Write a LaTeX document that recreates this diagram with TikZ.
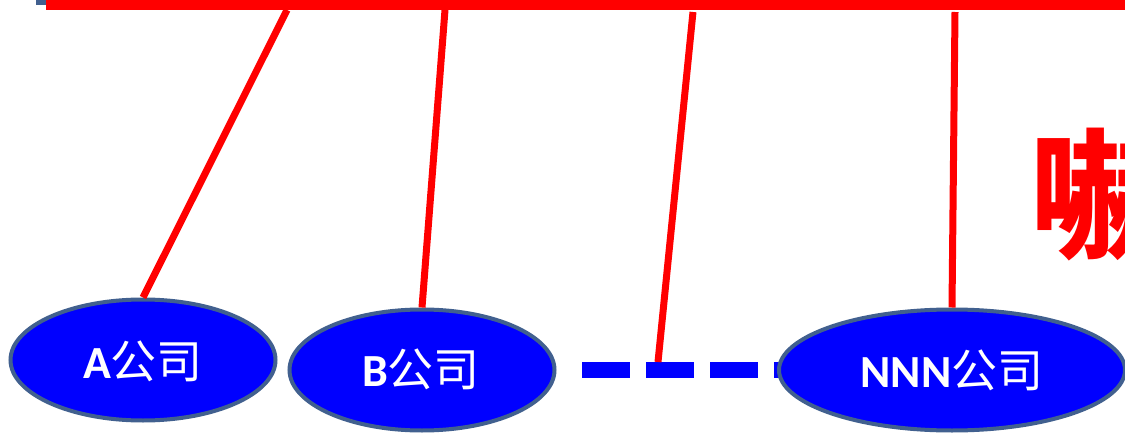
\documentclass[tikz,border=0pt]{standalone}
\usepackage{fontspec}
\newfontfamily\cjk{Noto Sans CJK SC}
\newfontfamily\latin{Carlito}
\usetikzlibrary{shapes.geometric}
\definecolor{bluefill}{HTML}{0000FF}
\definecolor{blueedge}{HTML}{41608F}
\definecolor{redline}{HTML}{FF0000}
\newcommand{\comp}[1]{{\latin\bfseries #1}{\cjk 公司}}
\tikzset{
  company/.style={ellipse, fill=bluefill, draw=blueedge, line width=4pt, inner sep=0pt, minimum height=121pt},
  companytext/.style={text=white, font=\fontsize{46}{50}\selectfont, anchor=base, inner sep=0pt},
  link/.style={draw=redline, line width=7pt},
}
\begin{document}
\begin{tikzpicture}[x=1pt,y=-1pt]
\useasboundingbox (0,0) rectangle (1125,433);
\clip (0,0) rectangle (1125,433);
% top bar
\fill[blueedge] (36,0) rectangle (47,5);
\fill[redline] (46,0) rectangle (1125,10.5);
\coordinate (t1) at (287,10);
\coordinate (t2) at (445,10);
\coordinate (t3) at (693,12);
\coordinate (t4) at (955,12);
% ellipses
\node[company, minimum width=265pt] (A) at (143,360) {};
\node[company, minimum width=265pt] (B) at (422,370) {};
% dashed line
\coordinate (d0) at (582,370);
\coordinate (d3) at (658,362);
\coordinate (d9) at (790,370);
\draw[bluefill, line width=16pt, dash pattern=on 48pt off 16pt] (d0) -- (d9);
\node[company, minimum width=346pt] (N) at (952,370) {};
% red links
\draw[link] (t1) -- (A.north);
\draw[link] (t2) -- (B.north);
\draw[link] (t3) -- (d3);
\draw[link] (t4) -- (N.north);
% texts
\node[companytext] (At) at (143,378) {\comp{A}};
\node[companytext] (Bt) at (421,386) {\comp{B}};
\node[companytext] (Nt) at (952,387) {\comp{NNN}};
% red character
\node[text=redline, font=\cjk\bfseries\fontsize{140}{150}\selectfont, anchor=base west, inner sep=0pt] (ch) at (1030,246) {嚇};
\end{tikzpicture}
\end{document}
